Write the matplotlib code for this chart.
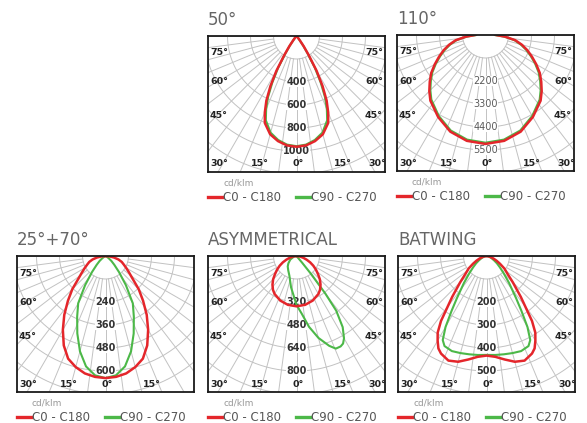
import numpy as np
import matplotlib
matplotlib.use("Agg")
import matplotlib.pyplot as plt

plt.rcParams['font.family'] = ['DejaVu Sans']

# ---------------- data (cd/klm vs gamma angle in degrees) ----------------
titles = ["50°", "110°", "25°+70°", "ASYMMETRICAL", "BATWING"]
grid_steps = [200, 1100, 120, 160, 100]
ring_labels = [[400, 600, 800, 1000],
               [2200, 3300, 4400, 5500],
               [240, 360, 480, 600],
               [320, 480, 640, 800],
               [200, 300, 400, 500]]

# 50 deg
gamma_50 = [0, 5, 10, 15, 20, 22.5, 25, 27.5, 30, 32.5, 35, 37.5, 40, 45, 50, 90]
c0_50 = [963, 955, 928, 885, 805, 720, 620, 490, 350, 200, 110, 45, 18, 5, 0, 0]
c90_50 = [958, 948, 918, 870, 780, 690, 585, 455, 320, 180, 95, 38, 15, 4, 0, 0]

# 110 deg
gamma_110 = [0, 10, 20, 30, 40, 45, 50, 55, 60, 65, 70, 75, 80, 85, 90]
c0_110 = [5210, 5140, 4920, 4530, 4100, 3800, 3480, 3170, 2800, 2450, 2130, 1800, 1450, 950, 500]
c90_110 = [5150, 5080, 4860, 4470, 4030, 3730, 3410, 3100, 2740, 2390, 2070, 1740, 1400, 900, 450]

# 25 + 70 deg
gamma_2570 = [0, 5, 10, 15, 20, 25, 30, 35, 40, 45, 50, 55, 60, 65, 70, 75, 80, 85, 90]
c0_2570 = [637, 633, 622, 600, 570, 515, 445, 375, 305, 245, 185, 150, 125, 105, 90, 70, 45, 20, 0]
c90_2570 = [637, 625, 585, 515, 430, 350, 285, 185, 110, 65, 40, 20, 8, 2, 0, 0, 0, 0, 0]

# asymmetrical (red symmetric, green full -90..90)
gamma_asym = [0, 10, 20, 30, 35, 40, 45, 50, 55, 60, 65, 70, 75, 80, 85, 90]
c0_asym = [350, 345, 330, 305, 286, 260, 230, 195, 165, 135, 105, 75, 50, 30, 12, 0]
gamma_asym_full = [-90, -75, -60, -48, -40, -30, -20, -10, 0, 5, 10, 15, 20, 23, 26, 28,
                   30, 33, 36, 37.5, 39, 40, 41, 90]
c90_asym = [0, 20, 50, 76, 95, 115, 145, 220, 340, 400, 500, 590, 665, 700, 700, 690,
            661, 590, 470, 330, 170, 60, 0, 0]

# batwing
gamma_bw = [0, 5, 10, 15, 20, 25, 27.5, 30, 32.5, 35, 40, 45, 50, 55, 60, 65, 70, 75, 80, 90]
c0_bw = [433, 440, 457, 476, 484, 468, 453, 425, 395, 345, 232, 162, 118, 95, 68, 48, 32, 20, 10, 0]
c90_bw = [430, 432, 434, 437, 440, 432, 412, 356, 282, 225, 152, 105, 75, 55, 38, 26, 18, 10, 5, 0]

RED = '#e4262b'
GREEN = '#4cb848'
GRID = '#c2c2c2'


def mirror(g, v):
    g = np.asarray(g, float)
    v = np.asarray(v, float)
    return np.concatenate([-g[::-1], g[1:]]), np.concatenate([v[::-1], v[1:]])


curves = [
    (mirror(gamma_50, c0_50), mirror(gamma_50, c90_50)),
    (mirror(gamma_110, c0_110), mirror(gamma_110, c90_110)),
    (mirror(gamma_2570, c0_2570), mirror(gamma_2570, c90_2570)),
    (mirror(gamma_asym, c0_asym), (np.array(gamma_asym_full, float), np.array(c90_asym, float))),
    (mirror(gamma_bw, c0_bw), mirror(gamma_bw, c90_bw)),
]

# ---------------- layout (pixels) ----------------
W, H = 587, 423
BW, BH = 177, 136
PX_PER_STEP = 23
boxes = [(208, 36), (397, 35), (17, 256), (208, 256), (398, 256)]

fig = plt.figure(figsize=(W / 100, H / 100), dpi=100)


def to_xy(g, v):
    t = np.radians(g)
    return v * np.sin(t), -v * np.cos(t)


for i, (bx, by) in enumerate(boxes):
    step = grid_steps[i]
    scale = PX_PER_STEP / step  # px per cd
    ax = fig.add_axes([bx / W, 1 - (by + BH) / H, BW / W, BH / H])
    ax.set_xlim(-BW / 2 / scale, BW / 2 / scale)
    ax.set_ylim(-BH / scale, 0)
    ax.set_xticks([])
    ax.set_yticks([])
    for s in ax.spines.values():
        s.set_linewidth(1.3)
        s.set_color('#1a1a1a')
        s.set_zorder(6)

    # polar grid
    tt = np.linspace(0, 2 * np.pi, 361)
    for k in range(1, 9):
        ax.plot(k * step * np.cos(tt), k * step * np.sin(tt), color=GRID, lw=0.7, zorder=1)
    for a in np.arange(-90, 90.1, 7.5):
        x, y = to_xy(np.array([a, a]), np.array([step, 10 * step]))
        ax.plot(x, y, color=GRID, lw=0.7, zorder=1)

    # curves
    (g0, v0), (g9, v9) = curves[i]
    x, y = to_xy(g9, v9)
    l2, = ax.plot(x, y, color=GREEN, lw=1.5, zorder=4, label='C90 - C270')
    x, y = to_xy(g0, v0)
    l1, = ax.plot(x, y, color=RED, lw=1.8, zorder=5, label='C0 - C180')

    # ring labels
    for val in ring_labels[i]:
        if i == 1:
            kw = dict(color='#5a5a5a', fontweight='normal')
        else:
            kw = dict(color='#333333', fontweight='bold')
        ax.text(0, -val, str(val), ha='center', va='center', fontsize=7, zorder=3,
                bbox=dict(facecolor='white', edgecolor='none', pad=0.3), **kw)

    # angle labels (pixel offsets inside the box)
    def lab(dx, dy, s, ha):
        ax.text(dx / BW, 1 - dy / BH, s, transform=ax.transAxes, ha=ha, va='center',
                fontsize=6.8, fontweight='bold', color='#222222', zorder=7, clip_on=False)

    lab(2, 17, "75°", 'left')
    lab(2, 46, "60°", 'left')
    lab(2, 80, "45°", 'left')
    lab(2, 128, "30°", 'left')
    lab(BW / 2 - 37, 128, "15°", 'center')
    lab(BW / 2 + 1.5, 128, "0°", 'center')
    lab(BW / 2 + 46, 128, "15°", 'center')
    if i != 2:
        lab(BW - 2, 17, "75°", 'right')
        lab(BW - 2, 46, "60°", 'right')
        lab(BW - 2, 80, "45°", 'right')
        lab(BW + 1, 128, "30°", 'right')

    # title
    fig.text(bx / W, 1 - (by - 11) / H, titles[i], ha='left', va='baseline',
             fontsize=12, color='#666666')

    # legend
    fig.text((bx + 15) / W, 1 - (by + BH + 11) / H, 'cd/klm', ha='left', va='center',
             fontsize=6.5, color='#999999')
    leg = ax.legend(handles=[l1, l2], loc='upper left', bbox_to_anchor=(0, -19 / BH),
                    ncol=2, frameon=False, fontsize=8.5, borderpad=0, borderaxespad=0,
                    handlelength=1.2, handletextpad=0.1, columnspacing=1.25)
    for t in leg.get_texts():
        t.set_color('#555555')
    for h in leg.legend_handles:
        h.set_linewidth(2.4)

fig.savefig('out.png', dpi=100)
